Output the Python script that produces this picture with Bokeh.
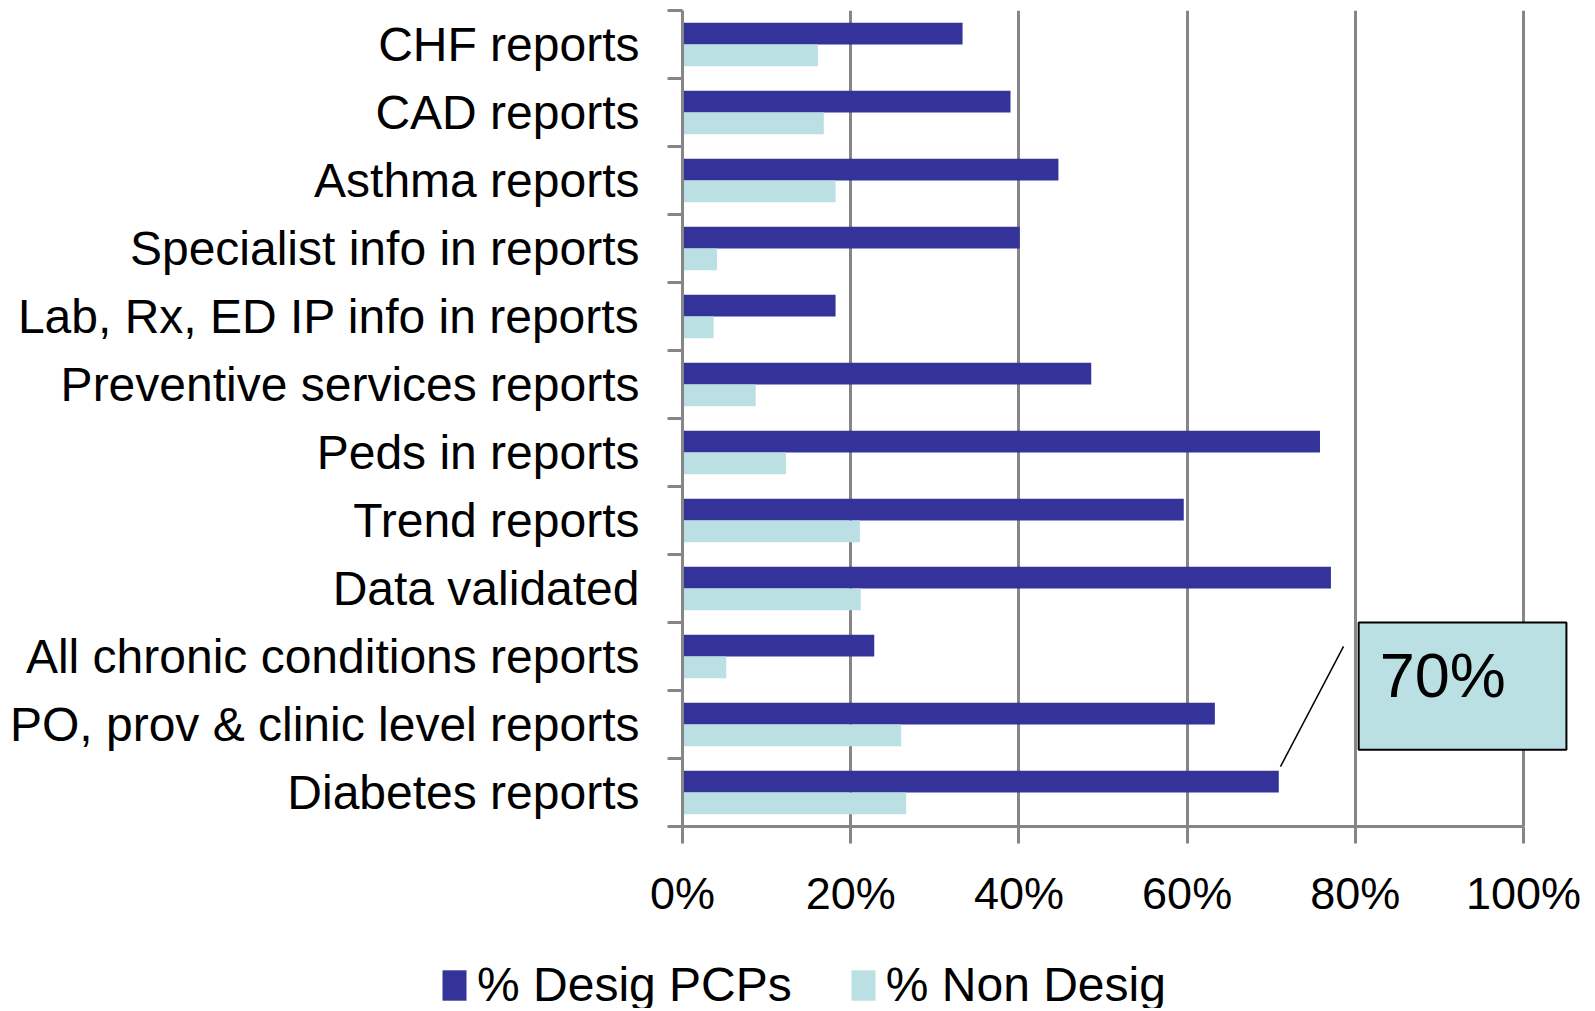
from bokeh.plotting import figure
from bokeh.layouts import column
from bokeh.models import (ColumnDataSource, FixedTicker, Legend, LegendItem, Range1d,
                          BoxAnnotation, Label)
from bokeh.embed import file_html
from bokeh.resources import INLINE

# categories bottom -> top
categories = [
    "Diabetes reports",
    "PO, prov & clinic level reports",
    "All chronic conditions reports",
    "Data validated",
    "Trend reports",
    "Peds in reports",
    "Preventive services reports",
    "Lab, Rx, ED IP info in reports",
    "Specialist info in reports",
    "Asthma reports",
    "CAD reports",
    "CHF reports",
]
desig_pcps = [70.9, 63.3, 22.8, 77.1, 59.6, 75.8, 48.6, 18.2, 40.1, 44.7, 39.0, 33.3]
non_desig = [26.6, 26.0, 5.2, 21.2, 21.1, 12.3, 8.7, 3.7, 4.1, 18.2, 16.8, 16.1]
x_ticks = [0, 20, 40, 60, 80, 100]
x_tick_labels = ["0%", "20%", "40%", "60%", "80%", "100%"]
series_names = ["% Desig PCPs", "% Non Desig"]
callout_text = "70%"

DARK = "#333399"
LIGHT = "#BBE0E3"
GRID = "#868686"
FONT = "Liberation Sans"

idx = list(range(len(categories)))
src = ColumnDataSource(dict(
    y_d=[i + 0.16 for i in idx],
    y_n=[i - 0.16 for i in idx],
    desig=desig_pcps,
    nondesig=non_desig,
))

p = figure(width=1590, height=928, output_backend="svg", toolbar_location=None,
           x_range=Range1d(0, 106.18), y_range=Range1d(-0.5, len(categories) - 0.5),
           min_border_left=682, min_border_top=10, min_border_right=15, min_border_bottom=102)
p.outline_line_color = None
p.background_fill_color = "white"
p.border_fill_color = "white"

r1 = p.hbar(y="y_d", right="desig", left=0, height=0.32, source=src,
            fill_color=DARK, line_color=None)
r2 = p.hbar(y="y_n", right="nondesig", left=0, height=0.32, source=src,
            fill_color=LIGHT, line_color=None)

# x axis
xa = p.xaxis[0]
xa.ticker = FixedTicker(ticks=x_ticks, minor_ticks=[])
xa.major_label_overrides = {t: l for t, l in zip(x_ticks, x_tick_labels)}
xa.bounds = (0, 100)
xa.axis_line_color = GRID
xa.axis_line_width = 3
xa.major_tick_line_color = GRID
xa.major_tick_line_width = 3
xa.major_tick_out = 17
xa.major_tick_in = 0
xa.minor_tick_line_color = None
xa.minor_tick_out = 0
xa.minor_tick_in = 0
xa.major_label_standoff = 24
xa.major_label_text_font = FONT
xa.major_label_text_font_size = "45px"
xa.major_label_text_color = "black"

# y axis
ya = p.yaxis[0]
ya.ticker = FixedTicker(ticks=idx, minor_ticks=[i - 0.5 for i in range(len(categories) + 1)])
ya.major_label_overrides = {i: c for i, c in zip(idx, categories)}
ya.axis_line_color = GRID
ya.axis_line_width = 3
ya.major_tick_line_color = None
ya.major_tick_out = 0
ya.major_tick_in = 0
ya.minor_tick_line_color = GRID
ya.minor_tick_line_width = 3
ya.minor_tick_out = 15
ya.minor_tick_in = 0
ya.major_label_standoff = 28
ya.major_label_text_font = FONT
ya.major_label_text_font_size = "48px"
ya.major_label_text_color = "black"

p.xgrid.ticker = FixedTicker(ticks=x_ticks)
p.xgrid.grid_line_color = GRID
p.xgrid.grid_line_width = 3
p.ygrid.grid_line_color = None

# callout
seg_src = ColumnDataSource(dict(x0=[desig_pcps[0] + 0.2], y0=[0.38], x1=[78.6], y1=[2.15]))
p.segment(x0="x0", y0="y0", x1="x1", y1="y1", source=seg_src, line_color="black", line_width=1.5)
box = BoxAnnotation(left=80.4, right=105.1, bottom=0.63, top=2.5,
                    fill_color=LIGHT, fill_alpha=1.0, line_color="black", line_alpha=1.0,
                    line_width=2, level="overlay")
p.add_layout(box)
lbl = Label(x=82.9, y=1.73, text=callout_text, text_font=FONT, text_font_size="63px",
            text_color="black", text_baseline="alphabetic", text_align="left",
            level="overlay")
p.add_layout(lbl)

# legend strip below the chart
pl = figure(width=1590, height=80, output_backend="svg", toolbar_location=None,
            x_range=Range1d(0, 1), y_range=Range1d(0, 1),
            x_axis_type=None, y_axis_type=None, min_border=0)
pl.outline_line_color = None
pl.xgrid.grid_line_color = None
pl.ygrid.grid_line_color = None
hidden = ColumnDataSource(dict(y=[-10.0], right=[0.5]))
l1 = pl.hbar(y="y", right="right", left=0, height=0.1, source=hidden,
             fill_color=DARK, line_color=None)
l2 = pl.hbar(y="y", right="right", left=0, height=0.1, source=hidden,
             fill_color=LIGHT, line_color=None)
legend = Legend(items=[LegendItem(label=series_names[0], renderers=[l1]),
                       LegendItem(label=series_names[1], renderers=[l2])],
                orientation="horizontal", location=(439, -4),
                label_text_font=FONT, label_text_font_size="48px", label_text_color="black",
                glyph_width=30, glyph_height=38, label_standoff=8, spacing=56,
                padding=0, margin=0, border_line_color=None,
                background_fill_alpha=0)
pl.add_layout(legend, "center")

for fig in (p, pl):
    if "frame_align" in fig.properties():
        fig.frame_align = False

layout = column(p, pl, spacing=0)
html = file_html(layout, INLINE)
open("out.html", "w").write(html)
